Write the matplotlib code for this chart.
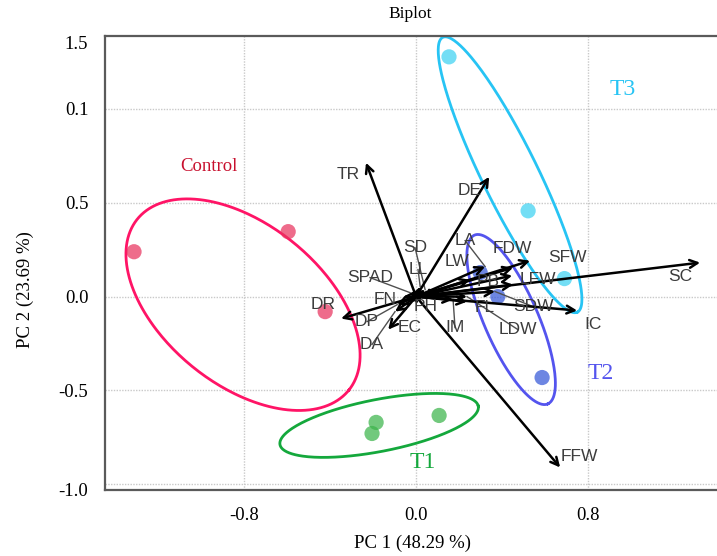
import numpy as np
import matplotlib
matplotlib.use("Agg")
import matplotlib.pyplot as plt

# ---- scores (PC1, PC2) per treatment group ----
groups = ["Control", "T1", "T2", "T3"]
control_pc1 = [-1.312, -0.595, -0.423]
control_pc2 = [0.239, 0.346, -0.080]
t1_pc1 = [-0.186, -0.205, 0.107]
t1_pc2 = [-0.670, -0.729, -0.633]
t2_pc1 = [0.298, 0.380, 0.586]
t2_pc2 = [0.128, 0.000, -0.431]
t3_pc1 = [0.153, 0.521, 0.690]
t3_pc2 = [1.277, 0.457, 0.096]

# ---- variable loadings (arrow tips) ----
var_names = ["SC", "IC", "FFW", "TR", "DR", "DE", "FDW", "LA", "LW", "SFW",
             "LFW", "PB", "SDW", "LDW", "FL", "IM", "EC", "DA", "DP", "FN",
             "SPAD", "SD", "LL", "PH"]
load_pc1 = [1.321, 0.749, 0.670, -0.233, -0.349, 0.340, 0.530, 0.321, 0.251, 0.451,
            0.447, 0.451, 0.367, 0.237, 0.237, 0.172, -0.130, -0.098, -0.088, -0.060,
            -0.028, 0.042, 0.019, 0.112]
load_pc2 = [0.181, -0.074, -0.910, 0.713, -0.117, 0.638, 0.191, 0.160, 0.090, 0.154,
            0.112, 0.064, 0.027, 0.000, -0.027, -0.016, -0.176, -0.080, -0.043, 0.000,
            0.021, 0.037, 0.053, 0.027]

# label anchor positions for the variable names
label_pc1 = [1.228, 0.823, 0.760, -0.316, -0.433, 0.251, 0.447, 0.228, 0.191, 0.702,
             0.567, 0.335, 0.544, 0.474, 0.321, 0.181, -0.028, -0.205, -0.228, -0.144,
             -0.214, -0.005, 0.009, 0.042]
label_pc2 = [0.106, -0.149, -0.851, 0.649, -0.043, 0.564, 0.255, 0.298, 0.186, 0.207,
             0.090, 0.080, -0.053, -0.176, -0.059, -0.165, -0.165, -0.255, -0.133, -0.016,
             0.101, 0.261, 0.144, -0.053]
# names whose label sits away from its arrow and gets a leader segment
leader_vars = ["LA", "SDW", "LDW", "IM", "DP", "SPAD", "SD", "LL", "DA"]

x_ticks = [-0.8, 0.0, 0.8]
x_tick_labels = ["-0.8", "0.0", "0.8"]
y_ticks = [1.351, 1.0, 0.5, 0.0, -0.5, -1.03]
y_tick_labels = ["1.5", "0.1", "0.5", "0.0", "-0.5", "-1.0"]
grid_x = [-0.8, 0.0, 0.8]
grid_y = [1.0, 0.5, 0.0, -0.5, -1.0]

W, H = 717, 556
fig = plt.figure(figsize=(W / 100, H / 100), dpi=100)
ax_left, ax_right, ax_top, ax_bottom = 105, 730, 36, 490
ax = fig.add_axes([ax_left / W, 1 - ax_bottom / H,
                   (ax_right - ax_left) / W, (ax_bottom - ax_top) / H])
ax.set_xlim(-1.447, 1.460)
ax.set_ylim(-1.03, 1.388)

serif = ["Liberation Serif", "DejaVu Serif"]
sans = ["Liberation Sans", "DejaVu Sans"]

for g in grid_x:
    ax.axvline(g, color="#c9c9c9", lw=1.0, ls=(0, (1, 1)), zorder=0)
for g in grid_y:
    ax.axhline(g, color="#c9c9c9", lw=1.0, ls=(0, (1, 1)), zorder=0)

for side in ["left", "bottom", "top"]:
    ax.spines[side].set_color("#5a5a5a")
    ax.spines[side].set_linewidth(1.6)
ax.spines["right"].set_visible(False)

ax.set_xticks(x_ticks)
ax.set_xticklabels(x_tick_labels, fontfamily=serif, fontsize=13.5)
ax.set_yticks(y_ticks)
ax.set_yticklabels(y_tick_labels, fontfamily=serif, fontsize=13.5)
ax.tick_params(axis="x", length=0, pad=12)
ax.tick_params(axis="y", length=0, pad=12)

fig.text(410 / W, 1 - 14 / H, "Biplot", ha="center", va="center",
         fontfamily=serif, fontsize=12.5)
fig.text(413 / W, 1 - 543 / H, "PC 1 (48.29 %)", ha="center", va="center",
         fontfamily=serif, fontsize=13.5)
fig.text(25 / W, 1 - 290 / H, "PC 2 (23.69 %)", ha="center", va="center",
         rotation=90, fontfamily=serif, fontsize=13.5)

# ---- confidence ellipses: centre (data), semi-axes (px), angle (deg, screen) ----
ell_center_pc1 = [-0.805, -0.172, 0.442, 0.437]
ell_center_pc2 = [-0.043, -0.686, -0.122, 0.649]
ell_semi_major = [136, 101, 92, 153]
ell_semi_minor = [80, 26, 27, 28]
ell_angle = [-39, 11, -66.5, -63.9]
ell_colors = ["#ff1466", "#14a83c", "#5454ee", "#27c4f4"]
pt_colors = ["#e8335f", "#3cb44b", "#3558d8", "#3dd2f2"]

fig.canvas.draw()
t = np.linspace(0, 2 * np.pi, 300)
for cx, cy, a, b, ang, col in zip(ell_center_pc1, ell_center_pc2, ell_semi_major,
                                  ell_semi_minor, ell_angle, ell_colors):
    c = ax.transData.transform((cx, cy))
    th = np.deg2rad(ang)
    u = c[0] + a * np.cos(t) * np.cos(th) - b * np.sin(t) * np.sin(th)
    v = c[1] + a * np.cos(t) * np.sin(th) + b * np.sin(t) * np.cos(th)
    pts = ax.transData.inverted().transform(np.column_stack([u, v]))
    ax.plot(pts[:, 0], pts[:, 1], color=col, lw=2.0, zorder=2)

# ---- score points ----
score_sets = [(control_pc1, control_pc2), (t1_pc1, t1_pc2),
              (t2_pc1, t2_pc2), (t3_pc1, t3_pc2)]
for (xs, ys), col in zip(score_sets, pt_colors):
    ax.scatter(xs, ys, s=120, color=col, alpha=0.72, edgecolors="none", zorder=3)

# ---- group labels ----
group_label_pc1 = [-0.963, 0.033, 0.860, 0.963]
group_label_pc2 = [0.691, -0.883, -0.410, 1.101]
group_label_size = [13.5, 17, 17, 17]
group_label_colors = ["#c8102e", "#14a83c", "#5454ee", "#27c4f4"]
for name, gx, gy, fs, col in zip(groups, group_label_pc1, group_label_pc2,
                                 group_label_size, group_label_colors):
    ax.text(gx, gy, name, color=col, fontfamily=serif, fontsize=fs,
            ha="center", va="center", zorder=5)

# ---- loading arrows, leader segments and names ----
for name, x, y, lx, ly in zip(var_names, load_pc1, load_pc2, label_pc1, label_pc2):
    if name in leader_vars:
        ax.plot([lx, x], [ly, y], color="#505050", lw=1.0, zorder=3)
    ax.annotate("", xy=(x, y), xytext=(0, 0),
                arrowprops=dict(arrowstyle="->", color="black", lw=1.8,
                                mutation_scale=14, shrinkA=0, shrinkB=0),
                zorder=4)
    ax.text(lx, ly, name, color="#3c3c3c", fontfamily=sans, fontsize=12.5,
            ha="center", va="center", zorder=6)

fig.savefig("out.png", dpi=100)
